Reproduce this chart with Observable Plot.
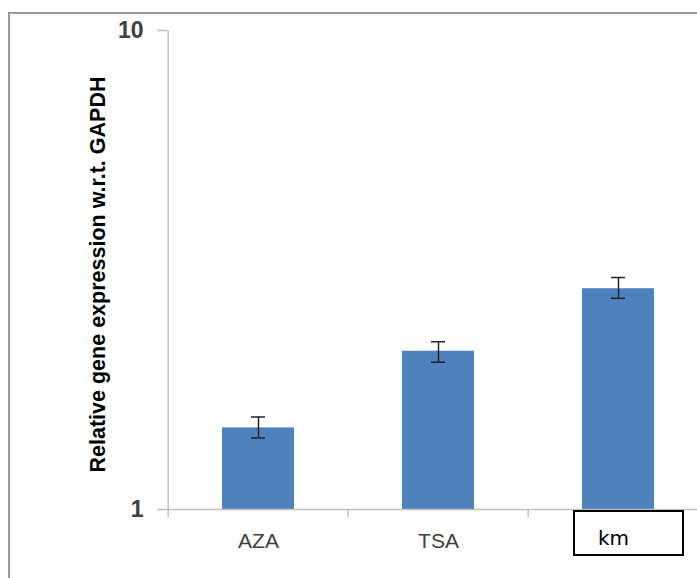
<!DOCTYPE html>
<html><head><meta charset="utf-8">
<script src="https://cdn.jsdelivr.net/npm/d3@7"></script>
<script src="https://cdn.jsdelivr.net/npm/@observablehq/plot@0.6"></script>
<style>
html,body{margin:0;padding:0;overflow:hidden;background:#fff;width:697px;height:578px;}
#wrap{position:relative;width:697px;height:578px;overflow:hidden;}
#wrap svg{position:absolute;left:0;top:0;max-width:none;}
#border{position:absolute;left:8px;top:12px;width:900px;height:900px;border:2px solid #9a9a9a;pointer-events:none;}
#kmbox{position:absolute;left:573px;top:510px;width:107px;height:42px;border:2px solid #000;pointer-events:none;}
</style>
</head><body>
<div id="wrap"></div>
<script>
const categories = ["AZA", "TSA", "km"];
const values = [1.48, 2.14, 2.89];
const errLow = [1.41, 2.03, 2.76];
const errHigh = [1.56, 2.24, 3.05];
const yTicks = [1, 10];
const yTitle = "Relative gene expression w.r.t. GAPDH";

const data = categories.map((c, i) => ({cat: c, value: values[i], lo: errLow[i], hi: errHigh[i]}));
const halfStep = -90.33;

const chart = Plot.plot({
  width: 697, height: 578,
  marginLeft: 167, marginRight: 0, marginTop: 30, marginBottom: 69,
  style: {fontFamily: "'Liberation Sans', Arial, sans-serif", background: "transparent"},
  x: {domain: categories, range: [167, 709], paddingInner: 0.6, paddingOuter: 0.3, label: null, axis: null},
  y: {type: "log", domain: [1, 10], label: null, axis: null},
  marks: [
    Plot.barY(data, {x: "cat", y1: 1, y2: "value", fill: "#4F81BD"}),
    Plot.ruleX([categories[0]], {x: d => d, dx: halfStep, stroke: "#c0c0c0", strokeWidth: 1.5}),
    Plot.ruleY([1], {stroke: "#c0c0c0", strokeWidth: 1.5}),
    Plot.axisY({ticks: yTicks, tickSize: 10, tickPadding: 14, tickFormat: d => String(d),
      stroke: "#c0c0c0", fill: "#404040", fontSize: 23, fontWeight: "bold", strokeWidth: 1.5}),
    Plot.axisX({tickSize: 8, tickFormat: () => "", dx: halfStep, stroke: "#c0c0c0", strokeWidth: 1.5}),
    Plot.axisX({tickSize: 0, tickPadding: 24, tickFormat: d => d === "km" ? "" : d, fill: "#404040", fontSize: 21}),
    Plot.ruleX(data, {x: "cat", y1: "lo", y2: "hi", stroke: "#222", strokeWidth: 1.5}),
    Plot.tickY(data, {x: "cat", y: "hi", insetLeft: 29, insetRight: 29, stroke: "#222", strokeWidth: 1.5}),
    Plot.tickY(data, {x: "cat", y: "lo", insetLeft: 29, insetRight: 29, stroke: "#222", strokeWidth: 1.5}),
    Plot.text(["km"], {x: d => d, text: d => d, frameAnchor: "bottom", dy: 35, dx: -5, fontSize: 20, fill: "#000", fontFamily: "'DejaVu Sans', sans-serif"}),
    Plot.text([yTitle], {text: d => d, frameAnchor: "left", textAnchor: "middle", rotate: -90, dx: -69, dy: 4.5, fontSize: 21.5, fontWeight: "bold", fill: "#000"})
  ]
});
const wrap = document.getElementById("wrap");
wrap.appendChild(chart);
const b = document.createElement("div"); b.id = "border"; wrap.appendChild(b);
const k = document.createElement("div"); k.id = "kmbox"; wrap.appendChild(k);
</script>
</body></html>
